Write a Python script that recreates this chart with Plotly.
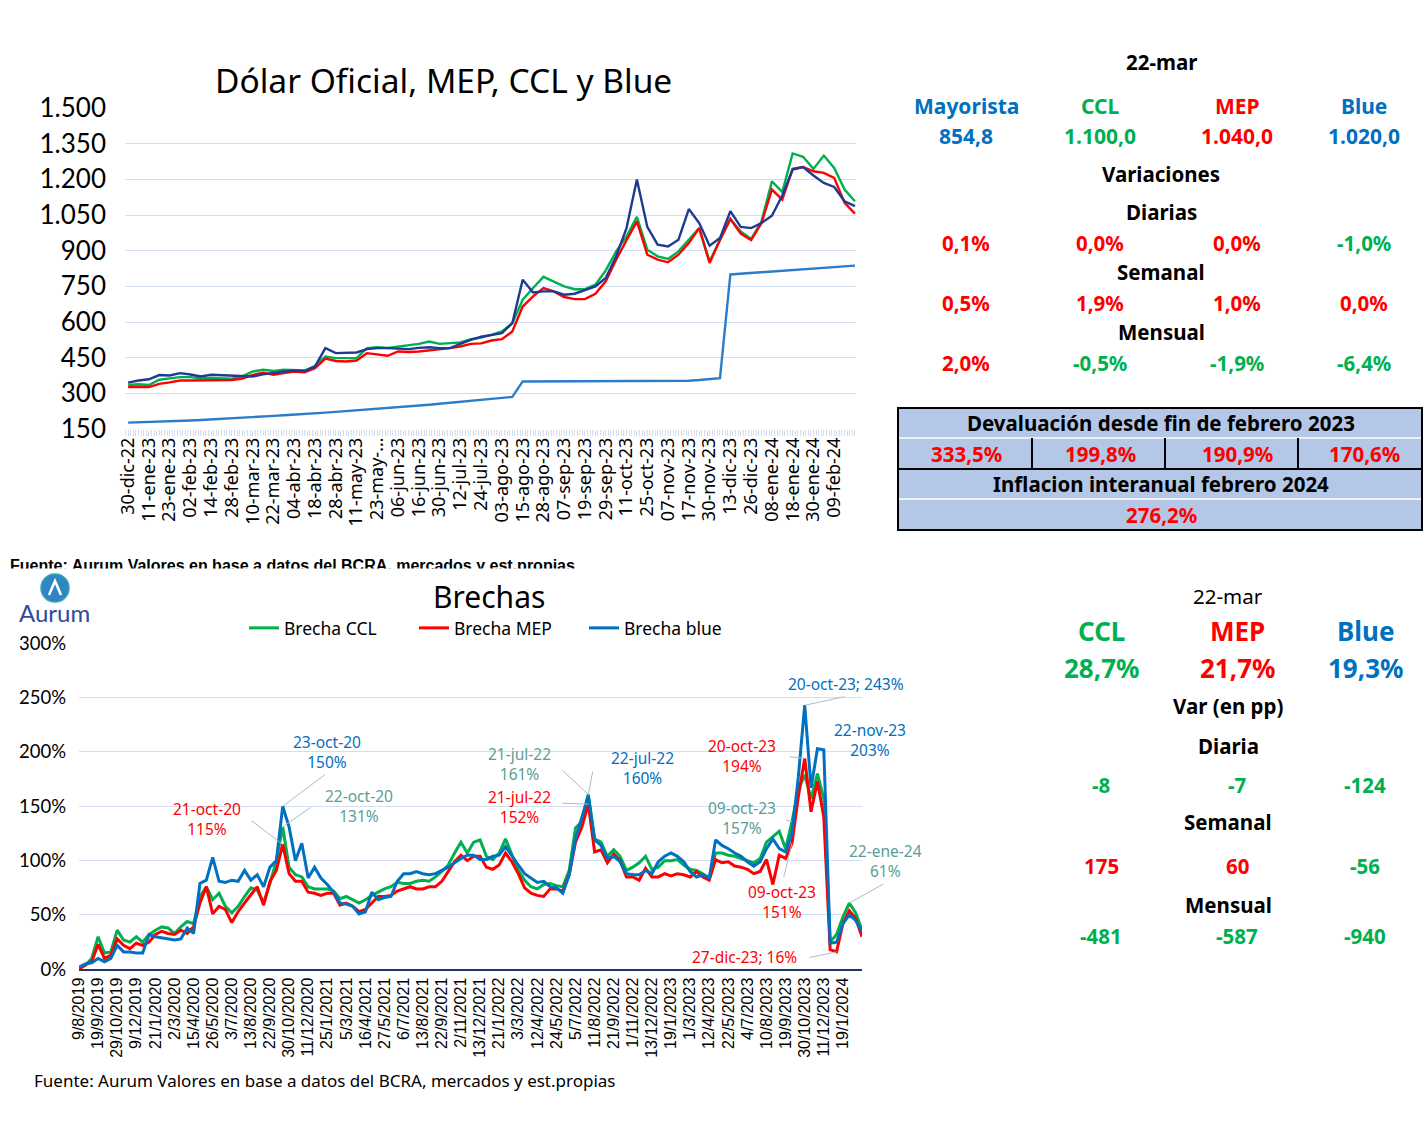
import plotly.graph_objects as go

W, H = 1424, 1130
def px(x): return x / W
def py(y): return 1 - y / H

# ---------------- top chart data ----------------
top_labels = ["30-dic-22","11-ene-23","23-ene-23","02-feb-23","14-feb-23","28-feb-23","10-mar-23",
              "22-mar-23","04-abr-23","18-abr-23","28-abr-23","11-may-23","23-may-…","06-jun-23",
              "16-jun-23","30-jun-23","12-jul-23","24-jul-23","03-ago-23","15-ago-23","28-ago-23",
              "07-sep-23","19-sep-23","29-sep-23","11-oct-23","25-oct-23","07-nov-23","17-nov-23",
              "30-nov-23","13-dic-23","26-dic-23","08-ene-24","18-ene-24","30-ene-24","09-feb-24"]

oficial = [177,178,180,181,183,184,186,188,190,193,195,197,200,202,205,208,210,213,216,219,
           222,225,228,231,234,238,241,245,248,252,256,260,264,268,272,276,280,285,350,350,
           350,350,350,350,350,350,350,350,350,350,350,350,350,350,353,356,359,364,800,803,
           806,809,812,815,818,821,824,827,830,834,837]
ccl = [335,338,335,357,363,368,368,363,365,365,362,371,392,399,394,399,399,396,415,455,
       448,448,448,490,494,491,497,500,508,518,508,511,514,528,534,546,560,595,694,743,
       790,770,750,738,738,757,817,897,960,1042,904,876,865,897,946,995,855,946,1033,981,
       949,1023,1192,1146,1309,1295,1244,1300,1248,1157,1108]
mep = [326,328,326,340,346,354,354,354,356,356,356,362,378,387,378,385,392,389,406,446,
       436,434,438,469,462,458,476,474,476,480,486,490,497,508,510,522,528,560,665,708,
       743,729,705,696,696,719,771,862,944,1023,883,862,851,883,932,995,848,946,1033,972,
       944,1016,1157,1115,1244,1252,1234,1227,1206,1101,1056]
blue = [345,354,359,377,375,385,379,371,378,376,376,371,371,380,387,392,396,394,413,490,
        469,472,472,486,490,490,489,486,491,494,490,490,508,525,538,546,553,595,778,724,
        729,729,715,719,736,750,785,876,995,1199,1000,925,918,946,1075,1016,921,953,1066,1000,
        995,1016,1047,1132,1241,1252,1216,1185,1168,1108,1087]

# ---------------- bottom chart data ----------------
gap_labels = ["9/8/2019","19/9/2019","29/10/2019","9/12/2019","21/1/2020","2/3/2020","15/4/2020",
              "26/5/2020","3/7/2020","13/8/2020","22/9/2020","30/10/2020","11/12/2020","25/1/2021",
              "5/3/2021","16/4/2021","27/5/2021","6/7/2021","13/8/2021","22/9/2021","2/11/2021",
              "13/12/2021","21/1/2022","3/3/2022","12/4/2022","24/5/2022","5/7/2022","11/8/2022",
              "21/9/2022","1/11/2022","13/12/2022","19/1/2023","1/3/2023","12/4/2023","22/5/2023",
              "4/7/2023","10/8/2023","19/9/2023","30/10/2023","11/12/2023","19/1/2024"]

gap_ccl = [1,4,10,30,15,16,36,27,25,30,25,32,36,39,38,33,39,44,42,67,
           76,64,70,58,52,58,67,75,73,61,79,100,131,94,87,85,76,74,74,74,
           72,65,67,64,61,64,68,71,74,76,80,79,79,81,82,81,85,90,96,107,
           117,107,117,119,104,101,107,120,105,91,82,76,74,78,79,77,76,91,130,136,
           161,120,117,104,110,104,91,94,98,104,92,94,100,100,101,96,92,91,88,84,
           107,107,105,104,102,100,98,102,117,122,127,111,136,165,179,157,180,157,25,32,
           48,61,52,36]
gap_mep = [0,4,7,23,10,13,28,22,19,24,22,25,32,35,33,32,36,33,39,61,
           76,51,58,55,43,53,61,68,76,59,81,91,115,88,81,81,71,70,68,70,
           70,59,61,58,53,55,61,67,67,68,72,74,76,74,74,76,76,81,90,99,
           105,100,104,104,94,92,96,107,99,88,75,70,68,67,74,74,72,87,117,131,
           152,108,110,98,106,100,85,85,82,93,85,85,88,86,88,87,85,90,85,82,
           101,98,99,95,94,92,88,90,101,78,105,102,116,159,194,145,173,140,18,16,
           42,54,47,30]
gap_blue = [2,5,6,10,7,10,22,16,16,15,15,32,30,29,28,27,28,38,33,79,
            82,103,81,80,82,81,91,82,87,76,94,100,150,131,100,116,84,94,84,78,
            71,61,60,58,51,53,71,64,66,67,81,88,88,90,88,87,88,91,94,98,
            102,105,105,101,101,104,105,113,104,96,88,84,80,81,76,75,70,87,120,140,
            160,119,114,102,104,99,88,87,87,91,88,99,104,107,104,99,90,85,87,84,
            119,114,111,107,104,99,95,99,111,120,111,108,125,177,243,167,203,202,24,25,
            42,50,45,35]

# ---------------- side tables ----------------
tbl_date = "22-mar"
tbl_heads = ["Mayorista", "CCL", "MEP", "Blue"]
tbl_prices = ["854,8", "1.100,0", "1.040,0", "1.020,0"]
var_diaria = ["0,1%", "0,0%", "0,0%", "-1,0%"]
var_semanal = ["0,5%", "1,9%", "1,0%", "0,0%"]
var_mensual = ["2,0%", "-0,5%", "-1,9%", "-6,4%"]
devaluacion = ["333,5%", "199,8%", "190,9%", "170,6%"]
inflacion = "276,2%"

gap_heads = ["CCL", "MEP", "Blue"]
gap_now = ["28,7%", "21,7%", "19,3%"]
gap_diaria = ["-8", "-7", "-124"]
gap_semanal = ["175", "60", "-56"]
gap_mensual = ["-481", "-587", "-940"]

fuente = "Fuente: Aurum Valores en base a datos del BCRA, mercados y est.propias"

# ---------------- styles ----------------
GREEN = '#00B050'; RED = '#FF0000'; NAVY = '#1F3A93'; OFI = '#2B7CC9'
BBLUE = '#0070C0'; TEAL = '#5A9E97'; GRID = '#D3DEF2'
FR = 'Lato'
FN = 'Noto Sans'
KEYCOL = {'ccl': TEAL, 'mep': RED, 'blue': BBLUE}

def pct_color(s):
    return GREEN if s.strip().startswith('-') else RED

fig = go.Figure()

xt = list(range(len(ccl)))
for ys, col in [(oficial, OFI), (ccl, GREEN), (mep, RED), (blue, NAVY)]:
    fig.add_trace(go.Scatter(x=xt, y=ys, mode='lines', line=dict(color=col, width=2.4),
                             showlegend=False, hoverinfo='skip', xaxis='x', yaxis='y'))

xb = list(range(len(gap_ccl)))
for ys, col, nm in [(gap_ccl, GREEN, 'Brecha CCL'), (gap_mep, RED, 'Brecha MEP'),
                    (gap_blue, BBLUE, 'Brecha blue')]:
    fig.add_trace(go.Scatter(x=xb, y=ys, mode='lines', name=nm, line=dict(color=col, width=3),
                             hoverinfo='skip', xaxis='x2', yaxis='y2'))

# partially hidden source line (clipped by its own subplot)
fig.add_trace(go.Scatter(x=[10], y=[0.05], mode='text', text=[fuente], textposition='middle right',
                         textfont=dict(family='Liberation Sans', size=16, color='black', weight='bold'),
                         cliponaxis=True, showlegend=False, hoverinfo='skip', xaxis='x3', yaxis='y3'))

annotations = []
def txt(x, y, s, size=20, color='black', bold=True, family=FN, xanchor='center'):
    annotations.append(dict(x=px(x), y=py(y), xref='paper', yref='paper', text=(f"<b>{s}</b>" if bold else s),
                            showarrow=False, xanchor=xanchor, yanchor='middle',
                            font=dict(family=family, size=size, color=color)))

# titles
txt(443, 80, "Dólar Oficial, MEP, CCL y Blue", size=33.5, bold=False, family=FN)
txt(489, 596, "Brechas", size=30, bold=False, family=FN)
txt(32, 1080, fuente, size=17, bold=False, family=FN, xanchor='left')

# logo text
txt(55, 612, "Aurum", size=24, color='#2D4C9C', bold=False, family=FR)

# top right table
cols4 = [966, 1100, 1237, 1364]
head_cols = [BBLUE, GREEN, RED, BBLUE]
txt(1161, 62, tbl_date, size=20.5)
for c, s, col in zip(cols4, tbl_heads, head_cols):
    txt(c, 106, s, size=21, color=col)
for c, s, col in zip(cols4, tbl_prices, head_cols):
    txt(c, 136, s, size=21, color=col)
txt(1161, 174, "Variaciones", size=20.5)
txt(1161, 212, "Diarias", size=20.5)
for c, s in zip(cols4, var_diaria):
    txt(c, 243, s, size=20.5, color=pct_color(s))
txt(1161, 272, "Semanal", size=20.5)
for c, s in zip(cols4, var_semanal):
    txt(c, 303, s, size=20.5, color=pct_color(s))
txt(1161, 332, "Mensual", size=20.5)
for c, s in zip(cols4, var_mensual):
    txt(c, 363, s, size=20.5, color=pct_color(s))

# devaluation box texts
txt(1161, 423, "Devaluación desde fin de febrero 2023", size=20.5)
for c, s in zip(cols4, devaluacion):
    txt(c, 454, s, size=20.5, color=RED)
txt(1161, 484, "Inflacion interanual febrero 2024", size=20.5)
txt(1161, 515, inflacion, size=20.5, color=RED)

# bottom right table
cols3 = [1101, 1237, 1365]
txt(1228, 596, tbl_date, size=20.5, bold=False)
for c, s, col in zip(cols3, gap_heads, [GREEN, RED, BBLUE]):
    txt(c, 631, s, size=26, color=col)
for c, s, col in zip(cols3, gap_now, [GREEN, RED, BBLUE]):
    txt(c, 668, s, size=26, color=col)
txt(1228, 706, "Var (en pp)", size=20.5)
txt(1228, 746, "Diaria", size=20.5)
for c, s in zip(cols3, gap_diaria):
    txt(c, 785, s, size=20.5, color=pct_color(s))
txt(1228, 822, "Semanal", size=20.5)
for c, s in zip(cols3, gap_semanal):
    txt(c, 866, s, size=20.5, color=pct_color(s))
txt(1228, 905, "Mensual", size=20.5)
for c, s in zip(cols3, gap_mensual):
    txt(c, 936, s, size=20.5, color=pct_color(s))

# data labels on the gap chart: leader lines anchored on the series
series = {'ccl': gap_ccl, 'mep': gap_mep, 'blue': gap_blue}
leaders = [('mep', 32, -33, -25), ('blue', 32, 44, -33), ('ccl', 32, 30, -21),
           ('ccl', 80, -28, -26), ('mep', 80, -28, -1), ('blue', 80, 5, -27),
           ('mep', 114, -17, -2), ('ccl', 112, -8, -2), ('mep', 112, -9, 37),
           ('blue', 114, 42, -9), ('ccl', 121, 36, -20), ('mep', 119, -29, 6)]
for key, i, ax, ay in leaders:
    annotations.append(dict(x=i, y=series[key][i], xref='x2', yref='y2', text=' ', showarrow=True,
                            arrowhead=0, arrowwidth=1, arrowcolor='#AEBBCD', ax=ax, ay=ay, standoff=0,
                            font=dict(size=2)))
label_blocks = [("21-oct-20<br>115%", 207, 819, 'mep'),
                ("23-oct-20<br>150%", 327, 752, 'blue'),
                ("22-oct-20<br>131%", 359, 806, 'ccl'),
                ("21-jul-22<br>161%", 519, 764, 'ccl'),
                ("21-jul-22<br>152%", 519, 807, 'mep'),
                ("22-jul-22<br>160%", 642, 768, 'blue'),
                ("20-oct-23<br>194%", 742, 756, 'mep'),
                ("09-oct-23<br>157%", 742, 818, 'ccl'),
                ("09-oct-23<br>151%", 782, 902, 'mep'),
                ("20-oct-23; 243%", 846, 684, 'blue'),
                ("22-nov-23<br>203%", 870, 740, 'blue'),
                ("22-ene-24<br>61%", 885, 861, 'ccl'),
                ("27-dic-23; 16%", 744, 957, 'mep')]
for s, x, y, key in label_blocks:
    txt(x, y, s, size=15.5, color=KEYCOL[key], bold=False, family=FN)

# shapes: devaluation box + logo
shapes = []
def rect(x0, y0, x1, y1, fill, lc, lw):
    shapes.append(dict(type='rect', xref='paper', yref='paper', x0=px(x0), x1=px(x1), y0=py(y1), y1=py(y0),
                       fillcolor=fill, line=dict(color=lc, width=lw), layer='below'))
def line(x0, y0, x1, y1, col, w):
    shapes.append(dict(type='line', xref='paper', yref='paper', x0=px(x0), x1=px(x1), y0=py(y0), y1=py(y1),
                       line=dict(color=col, width=w), layer='below'))
rect(898, 408, 1422, 530, '#B4C7E7', 'black', 2)
line(899, 438, 1421, 438, 'white', 1.5)
line(899, 469, 1421, 469, 'black', 2)
line(899, 499, 1421, 499, 'white', 1.5)
for xv in [1032, 1165, 1298]:
    line(xv, 438, xv, 469, 'black', 2)

shapes.append(dict(type='circle', xref='paper', yref='paper', x0=px(41), x1=px(69), y0=py(602), y1=py(574),
                   fillcolor='#2F86C2', line=dict(color='#35A3B8', width=1.5), layer='above'))
path = "M {:.5f},{:.5f} L {:.5f},{:.5f} L {:.5f},{:.5f}".format(px(49), py(595), px(55), py(581), px(61), py(595))
shapes.append(dict(type='path', xref='paper', yref='paper', path=path, line=dict(color='white', width=2.5),
                   layer='above'))

fig.update_layout(
    width=W, height=H, margin=dict(l=0, r=0, t=0, b=0, pad=0, autoexpand=False),
    autosize=False,
    paper_bgcolor='white', plot_bgcolor='rgba(0,0,0,0)',
    separators=',.',
    xaxis=dict(domain=[px(125), px(856)], range=[-0.3, 70.1], anchor='y', automargin=False,
               tickmode='array', tickvals=list(range(0, 2 * len(top_labels), 2)), ticktext=top_labels,
               tickangle=-90, tickfont=dict(family=FN, size=18, color='black'),
               showgrid=False, zeroline=False, showline=False, ticks='', ticklabelstandoff=4,
               minor=dict(ticks='outside', tickmode='linear', tick0=0, dtick=0.25, ticklen=6,
                          tickcolor=GRID, tickwidth=1, showgrid=False)),
    yaxis=dict(domain=[py(429), py(108)], range=[150, 1500], anchor='x', automargin=False,
               tick0=150, dtick=150, tickformat=',d', gridcolor=GRID, gridwidth=1.3,
               zeroline=False, showline=False, ticklabelstandoff=18,
               tickfont=dict(family=FR, size=26, color='black')),
    xaxis2=dict(domain=[px(79), px(862)], range=[0, len(gap_ccl) - 1], anchor='y2', automargin=False,
                tickmode='array', tickvals=list(range(0, 3 * len(gap_labels), 3)), ticktext=gap_labels,
                tickangle=-90, tickfont=dict(family='Liberation Sans', size=16, color='black'),
                showgrid=False, zeroline=False, showline=True, linecolor='#1F3864', linewidth=2, ticks=''),
    yaxis2=dict(domain=[py(969.3), py(643.3)], range=[0, 300], anchor='x2', automargin=False,
                tick0=0, dtick=50, ticksuffix='%', gridcolor=GRID, gridwidth=1.3,
                zeroline=False, showline=False, ticklabelstandoff=12,
                tickfont=dict(family=FR, size=18.5, color='black')),
    xaxis3=dict(domain=[0, px(860)], range=[0, 860], visible=False, anchor='y3', fixedrange=True),
    yaxis3=dict(domain=[py(568.5), py(548)], range=[0, 1], visible=False, anchor='x3', fixedrange=True),
    legend=dict(orientation='h', x=px(244), y=py(628), xanchor='left', yanchor='middle',
                font=dict(family=FN, size=17.5, color='black'), bgcolor='rgba(0,0,0,0)',
                itemwidth=30, tracegroupgap=0, entrywidth=125, entrywidthmode='pixels'),
    annotations=annotations,
    shapes=shapes,
)

fig.write_html("out.html")
